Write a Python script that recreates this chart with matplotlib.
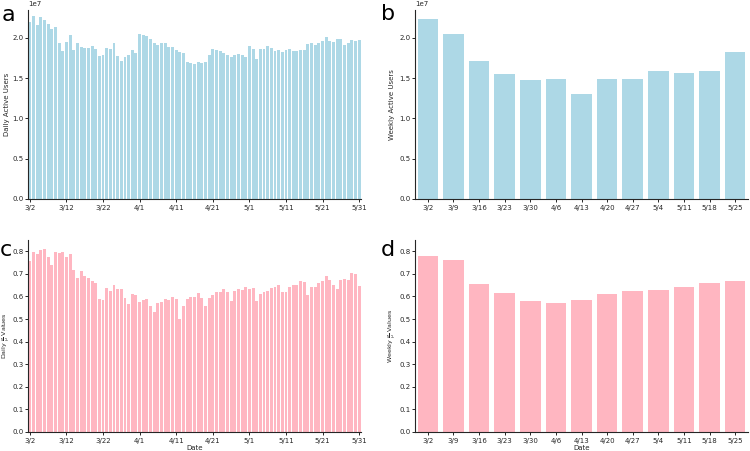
import matplotlib
matplotlib.use("Agg")
import matplotlib.pyplot as plt
import numpy as np
import pandas as pd

# ---- data ----
daily_dates = pd.date_range("2020-03-02", "2020-05-31", freq="D")
daily_labels = [f"{d.month}/{d.day}" for d in daily_dates]

daily_users_m = [  # millions
    22.0, 22.75, 21.65, 22.6, 22.2, 21.75, 21.1, 21.35, 19.4, 18.35,
    19.5, 20.3, 18.45, 19.3, 18.85, 18.7, 18.7, 19.0, 18.6, 17.7,
    17.9, 18.7, 18.55, 19.3, 17.7, 17.15, 17.65, 17.85, 18.45, 18.15,
    20.45, 20.4, 20.2, 19.8, 19.4, 19.05, 19.3, 19.3, 18.85, 18.85,
    18.5, 18.3, 18.1, 17.0, 16.85, 16.8, 16.95, 16.85, 16.95, 17.85,
    18.57, 18.53, 18.41, 18.09, 17.84, 17.56, 17.84, 17.96, 17.84, 17.68,
    18.98, 18.57, 17.35, 18.65, 18.65, 18.94, 18.78, 18.33, 18.53, 18.2,
    18.5, 18.57, 18.41, 18.41, 18.5, 18.45, 19.25, 19.39, 19.15, 19.31,
    19.63, 20.07, 19.63, 19.47, 19.8, 19.8, 19.1, 19.39, 19.76, 19.59,
    19.76,
]

daily_ratio = [
    0.759, 0.799, 0.788, 0.805, 0.811, 0.774, 0.740, 0.795, 0.792, 0.798,
    0.773, 0.788, 0.718, 0.683, 0.711, 0.689, 0.682, 0.670, 0.659, 0.590,
    0.585, 0.637, 0.623, 0.650, 0.633, 0.633, 0.593, 0.568, 0.611, 0.608,
    0.575, 0.583, 0.589, 0.559, 0.531, 0.571, 0.575, 0.589, 0.583, 0.597,
    0.589, 0.501, 0.560, 0.588, 0.597, 0.597, 0.615, 0.593, 0.556, 0.593,
    0.608, 0.622, 0.618, 0.633, 0.622, 0.582, 0.625, 0.634, 0.627, 0.642,
    0.634, 0.637, 0.582, 0.612, 0.618, 0.624, 0.637, 0.642, 0.649, 0.622,
    0.619, 0.642, 0.649, 0.649, 0.670, 0.665, 0.606, 0.642, 0.642, 0.659,
    0.670, 0.689, 0.674, 0.650, 0.633, 0.674, 0.678, 0.671, 0.703, 0.699,
    0.647,
]

weekly_labels = ["3/2", "3/9", "3/16", "3/23", "3/30", "4/6", "4/13",
                 "4/20", "4/27", "5/4", "5/11", "5/18", "5/25"]
weekly_users_1e7 = [2.235, 2.052, 1.707, 1.552, 1.479, 1.491, 1.300,
                    1.483, 1.487, 1.585, 1.565, 1.585, 1.821]
weekly_ratio = [0.781, 0.760, 0.653, 0.617, 0.578, 0.570, 0.585,
                0.610, 0.625, 0.628, 0.641, 0.659, 0.670]

BLUE = "#ADD8E6"
PINK = "#FFB6C1"
SPINE = "#262626"
FS = 5

plt.rcParams["font.family"] = ["DejaVu Sans"]

fig = plt.figure(figsize=(7.5, 4.51), dpi=100)
W, H = 750.0, 451.0


def make_ax(x0, x1, ytop, ybot):
    return fig.add_axes([x0 / W, 1 - ybot / H, (x1 - x0) / W, (ybot - ytop) / H])


def style(ax):
    for s in ["top", "right"]:
        ax.spines[s].set_visible(False)
    for s in ["left", "bottom"]:
        ax.spines[s].set_color(SPINE)
        ax.spines[s].set_linewidth(0.8)
    ax.tick_params(axis="both", labelsize=FS, length=2.5, width=0.7,
                   color=SPINE, labelcolor=SPINE, pad=1.5)
    ax.tick_params(axis="y", pad=1.0, length=2.2)
    ax.yaxis.get_offset_text().set_fontsize(FS)
    ax.yaxis.get_offset_text().set_color(SPINE)


axa = make_ax(28, 361, 10, 199)
axb = make_ax(415, 748, 10, 199)
axc = make_ax(28, 361, 240, 432)
axd = make_ax(415, 748, 240, 432)
AXW = 333.0

xd = np.arange(len(daily_labels))
xw = np.arange(len(weekly_labels))

# a
axa.bar(xd, np.array(daily_users_m) * 1e6, width=0.8, color=BLUE, edgecolor="none")
axa.set_xlim(-0.5, len(xd) - 0.5)
axa.set_ylim(0, 2.345e7)
axa.set_xticks(xd[::10])
axa.set_xticklabels(daily_labels[::10])
axa.set_ylabel("Daily Active Users", fontsize=FS, color=SPINE)
axa.yaxis.set_label_coords(-(28 - 10) / AXW, 0.5)
style(axa)

# b
axb.bar(xw, np.array(weekly_users_1e7) * 1e7, width=0.8, color=BLUE, edgecolor="none")
axb.set_xlim(-0.5, len(xw) - 0.5)
axb.set_ylim(0, 2.345e7)
axb.set_xticks(xw)
axb.set_xticklabels(weekly_labels)
axb.set_ylabel("Weekly Active Users", fontsize=FS, color=SPINE)
axb.yaxis.set_label_coords(-(415 - 395) / AXW, 0.5)
style(axb)

# c
axc.bar(xd, daily_ratio, width=0.8, color=PINK, edgecolor="none")
axc.set_xlim(-0.5, len(xd) - 0.5)
axc.set_ylim(0, 0.85)
axc.set_xticks(xd[::10])
axc.set_xticklabels(daily_labels[::10])
axc.set_ylabel(r"Daily $\frac{\sigma}{\mu}$ Values", fontsize=4.6, color=SPINE)
axc.yaxis.set_label_coords(-(28 - 12.3) / AXW, 0.5)
axc.set_xlabel("Date", fontsize=FS, color=SPINE, labelpad=1)
axc.set_yticks(np.arange(0, 0.81, 0.1))
style(axc)

# d
axd.bar(xw, weekly_ratio, width=0.8, color=PINK, edgecolor="none")
axd.set_xlim(-0.5, len(xw) - 0.5)
axd.set_ylim(0, 0.85)
axd.set_xticks(xw)
axd.set_xticklabels(weekly_labels)
axd.set_ylabel(r"Weekly $\frac{\sigma}{\mu}$ Values", fontsize=4.6, color=SPINE)
axd.yaxis.set_label_coords(-(415 - 397.8) / AXW, 0.5)
axd.set_xlabel("Date", fontsize=FS, color=SPINE, labelpad=1)
axd.set_yticks(np.arange(0, 0.81, 0.1))
style(axd)

# panel letters
fig.text(2 / W, 1 - 21 / H, "a", fontsize=16, va="baseline", ha="left")
fig.text(381 / W, 1 - 20 / H, "b", fontsize=16, va="baseline", ha="left")
fig.text(0 / W, 1 - 256 / H, "c", fontsize=16, va="baseline", ha="left")
fig.text(381 / W, 1 - 256 / H, "d", fontsize=16, va="baseline", ha="left")

fig.savefig("out.png", dpi=100)
